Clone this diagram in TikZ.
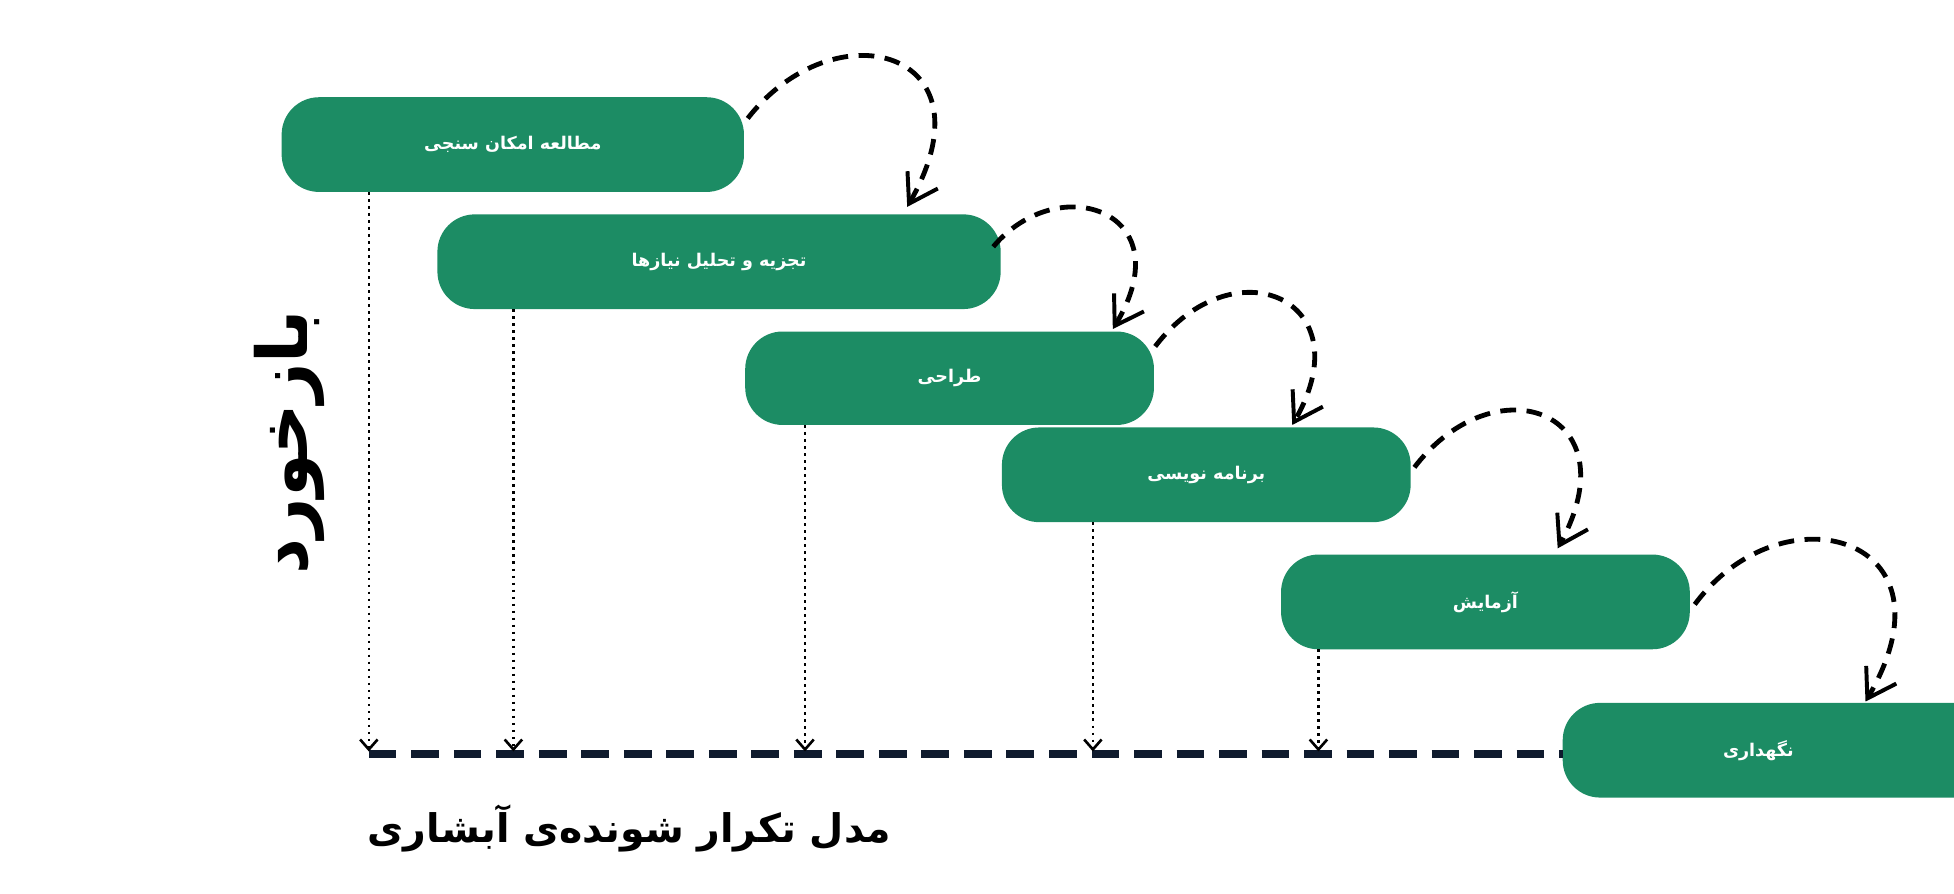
\documentclass[tikz,border=0pt]{standalone}
\usepackage{fontspec}
\usetikzlibrary{arrows.meta}
\TeXXeTstate=1
\newfontfamily\fa[Script=Arabic]{DejaVu Sans}
\definecolor{boxg}{HTML}{1C8C64}
\definecolor{navy}{HTML}{0F1B2E}
\begin{document}
\begin{tikzpicture}[x=0.01cm,y=-0.01cm,
  stepbox/.style={fill=boxg,rounded corners=0.3cm},
  lbl/.style={text=white,font=\fa\bfseries\fontsize{4}{5}\selectfont},
  fb/.style={line width=1.1pt,dash pattern=on 3.6pt off 2.4pt,-{Straight Barb[length=2.2mm,width=2.8mm,line width=0.9pt]}},
  drop/.style={densely dotted,line width=0.6pt,-{Straight Barb[length=0.8mm,width=1.4mm]}}]
\useasboundingbox (0,0) rectangle (1568,717);
\path[stepbox] (226,78) rectangle (597,154); \node[lbl] (b1) at (411.5,116) {\beginR مطالعه امکان سنجی\endR};
\path[stepbox] (351,172) rectangle (803,248); \node[lbl] (b2) at (577,210) {\beginR تجزیه و تحلیل نیازها\endR};
\path[stepbox] (598,266) rectangle (926,341); \node[lbl] (b3) at (762,303) {\beginR طراحی\endR};
\path[stepbox] (804,343) rectangle (1132,419); \node[lbl] (b4) at (968,381) {\beginR برنامه نویسی\endR};
\path[stepbox] (1028,445) rectangle (1356,521); \node[lbl] (b5) at (1192,483) {\beginR آزمایش\endR};
\path[stepbox] (1254,564) rectangle (1600,640); \node[lbl] (b6) at (1411,602) {\beginR نگهداری\endR};
\coordinate (L0) at (296,605); \coordinate (L1) at (1254,605);
\draw[navy,line width=2pt,dash pattern=on 6.3pt off 3.4pt] (L0) -- (L1);
\foreach \x/\y in {296/154,412/248,646/341,877/419,1058/521}{
  \coordinate (t) at (\x,\y); \coordinate (u) at (\x,603);
  \draw[drop] (t) -- (u);}
\coordinate (s1) at (600,95); \coordinate (e1) at (728,166);
\coordinate (s2) at (797,198); \coordinate (e2) at (893,264);
\coordinate (s3) at (927,278); \coordinate (e3) at (1037,341);
\coordinate (s4) at (1135,375); \coordinate (e4) at (1250,440);
\coordinate (s5) at (1360,485); \coordinate (e5) at (1497,563);
\draw[fb] (s1) .. controls (670,5) and (800,40) .. (e1);
\draw[fb] (s2) .. controls (850,135) and (950,170) .. (e2);
\draw[fb] (s3) .. controls (990,195) and (1095,240) .. (e3);
\draw[fb] (s4) .. controls (1200,290) and (1310,330) .. (e4);
\draw[fb] (s5) .. controls (1430,390) and (1575,430) .. (e5);
\node[rotate=90,font=\fa\bfseries\fontsize{16}{19}\selectfont] (fbt) at (232,355) {\beginR بازخورد\endR};
\node[font=\fa\bfseries\fontsize{9}{11}\selectfont] (title) at (505,665) {\beginR مدل تکرار شونده‌ی آبشاری\endR};
\end{tikzpicture}
\end{document}
